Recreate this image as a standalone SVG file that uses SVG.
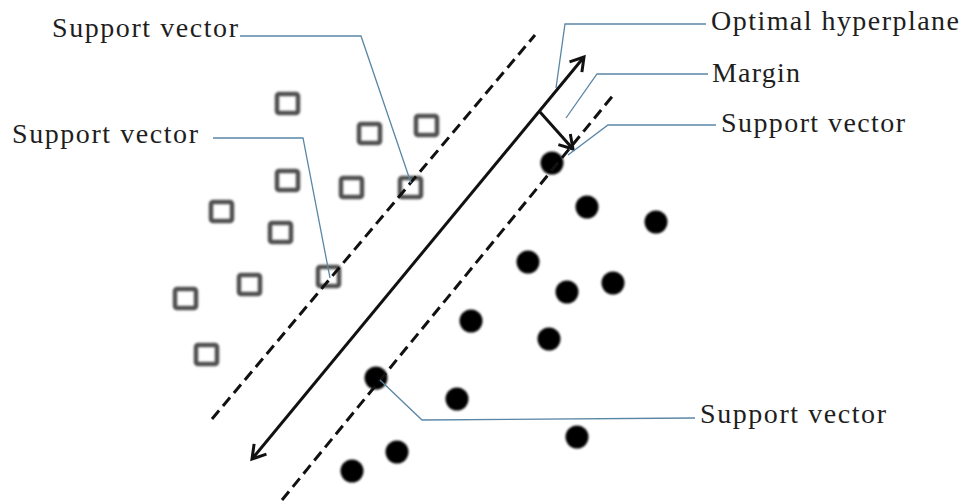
<svg xmlns="http://www.w3.org/2000/svg" width="962" height="503" viewBox="0 0 962 503">
  <style>
    .lbl { font-family: "Liberation Serif", "Times New Roman", serif; font-size: 28px; fill: #1e1e1e; }
    .leader { fill: none; stroke: #5a86a6; stroke-width: 1.3; }
    .sq { fill: none; stroke: #505050; stroke-width: 4.5; }
    .dot { fill: #060606; }
    .dash { stroke: #111; stroke-width: 3; stroke-dasharray: 11 6; fill: none; }
    .solid { stroke: #111; stroke-width: 3; fill: none; }
  </style>
  <defs>
    <marker id="open" markerUnits="userSpaceOnUse" markerWidth="20" markerHeight="20" viewBox="0 0 20 20" refX="16" refY="10" orient="auto-start-reverse">
      <path d="M3,2 L16,10 L3,18" fill="none" stroke="#111" stroke-width="3"/>
    </marker>
    <filter id="soft" x="-50%" y="-50%" width="200%" height="200%">
      <feGaussianBlur stdDeviation="1.1"/>
    </filter>
  </defs>

  <rect width="962" height="503" fill="#ffffff"/>

  <!-- class A: hollow squares -->
  <g id="class-a" filter="url(#soft)">
    <rect class="sq" x="277" y="94" width="21" height="19" rx="2"/>
    <rect class="sq" x="359" y="124" width="21" height="19" rx="2"/>
    <rect class="sq" x="416" y="116" width="21" height="19" rx="2"/>
    <rect class="sq" x="277" y="171" width="21" height="19" rx="2"/>
    <rect class="sq" x="341" y="178" width="21" height="19" rx="2"/>
    <rect class="sq" x="400" y="178" width="21" height="19" rx="2"/>
    <rect class="sq" x="211" y="202" width="21" height="19" rx="2"/>
    <rect class="sq" x="270" y="223" width="21" height="19" rx="2"/>
    <rect class="sq" x="318" y="267" width="21" height="19" rx="2"/>
    <rect class="sq" x="239" y="275" width="21" height="19" rx="2"/>
    <rect class="sq" x="175" y="289" width="21" height="19" rx="2"/>
    <rect class="sq" x="196" y="345" width="21" height="19" rx="2"/>
  </g>

  <!-- class B: filled dots -->
  <g id="class-b" filter="url(#soft)">
    <circle class="dot" cx="552" cy="163" r="11.5"/>
    <circle class="dot" cx="587" cy="207" r="11.5"/>
    <circle class="dot" cx="656" cy="222" r="11.5"/>
    <circle class="dot" cx="528" cy="262" r="11.5"/>
    <circle class="dot" cx="567" cy="292" r="11.5"/>
    <circle class="dot" cx="613" cy="283" r="11.5"/>
    <circle class="dot" cx="471" cy="321" r="11.5"/>
    <circle class="dot" cx="549" cy="339" r="11.5"/>
    <circle class="dot" cx="376" cy="378" r="11.5"/>
    <circle class="dot" cx="457" cy="399" r="11.5"/>
    <circle class="dot" cx="577" cy="437" r="11.5"/>
    <circle class="dot" cx="397" cy="452" r="11.5"/>
    <circle class="dot" cx="352" cy="471" r="11.5"/>
  </g>

  <!-- hyperplane, margin boundaries and margin arrow -->
  <g id="hyperplane">
    <line class="dash" x1="212" y1="419" x2="535" y2="35"/>
    <line class="dash" x1="282" y1="500" x2="615" y2="93"/>
    <line class="solid" x1="252" y1="459" x2="584" y2="57" marker-start="url(#open)" marker-end="url(#open)"/>
    <line class="solid" x1="540" y1="112" x2="573" y2="149" marker-end="url(#open)"/>
  </g>

  <!-- leader lines -->
  <g id="connectors">
    <polyline class="leader" points="240,36 361,36 411,183"/>
    <polyline class="leader" points="213,138 303,138 330,278"/>
    <polyline class="leader" points="706,24 565,24 556,88"/>
    <polyline class="leader" points="708,74 597,74 566,118"/>
    <polyline class="leader" points="716,125 608,125 568,155"/>
    <polyline class="leader" points="695,418 422,420 380,380"/>
  </g>

  <!-- labels -->
  <g id="label-sv-top"><text class="lbl" x="52" y="37" textLength="186" lengthAdjust="spacing">Support vector</text></g>
  <g id="label-sv-left"><text class="lbl" x="12" y="143" textLength="186" lengthAdjust="spacing">Support vector</text></g>
  <g id="label-hyperplane"><text class="lbl" x="711" y="30" textLength="248" lengthAdjust="spacing">Optimal hyperplane</text></g>
  <g id="label-margin"><text class="lbl" x="712" y="82" textLength="88" lengthAdjust="spacing">Margin</text></g>
  <g id="label-sv-right"><text class="lbl" x="721" y="132" textLength="184" lengthAdjust="spacing">Support vector</text></g>
  <g id="label-sv-bottom"><text class="lbl" x="700" y="423" textLength="186" lengthAdjust="spacing">Support vector</text></g>
</svg>
